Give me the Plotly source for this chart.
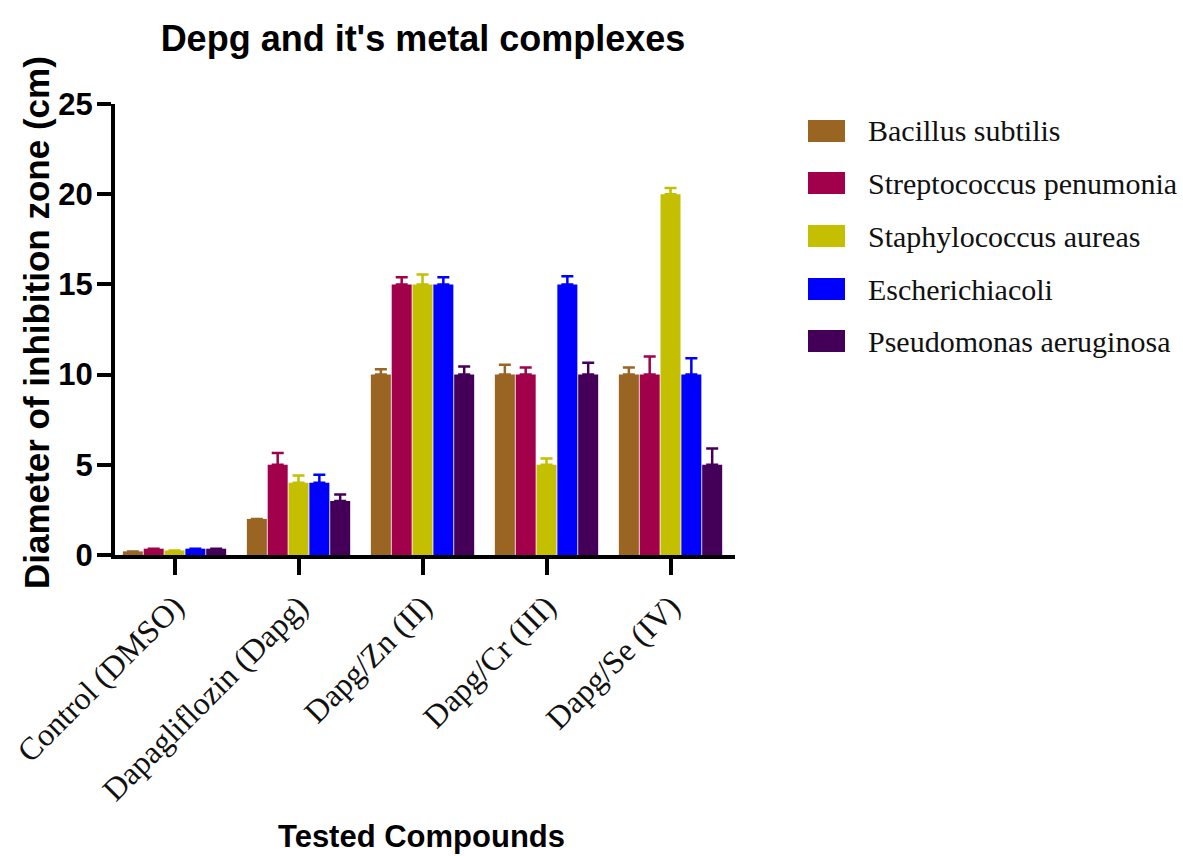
import plotly.graph_objects as go

# Tested compounds (x categories)
compounds = ["Control (DMSO)", "Dapagliflozin (Dapg)", "Dapg/Zn (II)", "Dapg/Cr (III)", "Dapg/Se (IV)"]

# Bacterial strains (series)
strains = ["Bacillus subtilis", "Streptococcus penumonia", "Staphylococcus aureas",
           "Escherichiacoli", "Pseudomonas aeruginosa"]

# Diameter of inhibition zone (cm), one list per strain
bacillus = [0.2, 2, 10, 10, 10]
streptococcus = [0.35, 5, 15, 10, 10]
staphylococcus = [0.25, 4, 15, 5, 20]
escherichia = [0.35, 4, 15, 15, 10]
pseudomonas = [0.35, 3, 10, 10, 5]

# Upper error (cm); None where no error bar is drawn
bacillus_err = [None, None, 0.3, 0.55, 0.4]
streptococcus_err = [None, 0.65, 0.4, 0.4, 1.0]
staphylococcus_err = [None, 0.4, 0.55, 0.35, 0.35]
escherichia_err = [None, 0.45, 0.4, 0.45, 0.9]
pseudomonas_err = [None, 0.35, 0.45, 0.65, 0.9]

y_ticks = [0, 5, 10, 15, 20, 25]

series = [bacillus, streptococcus, staphylococcus, escherichia, pseudomonas]
errors = [bacillus_err, streptococcus_err, staphylococcus_err, escherichia_err, pseudomonas_err]
colors = ["#9A6422", "#A1004B", "#C4BF00", "#0000FF", "#440058"]

fig = go.Figure()
for name, vals, err, col in zip(strains, series, errors, colors):
    fig.add_trace(go.Bar(
        name=name, x=compounds, y=vals,
        marker=dict(color=col, line=dict(width=0)),
        error_y=dict(type="data", array=err, arrayminus=[0] * len(err), symmetric=False,
                     color=col, thickness=2.5, width=6),
        showlegend=False,
    ))

# Pixel geometry of the plotting area
W, H = 1183, 856
L, R, T, B = 115, 448, 104, 301
pw, ph = W - L - R, H - T - B


def px(x):
    return (x - L) / pw


def py(y):
    return (H - B - y) / ph


shapes = []
annotations = []
# Legend: coloured swatches with serif labels
legend_y = [131, 183, 236, 289, 341]
for name, col, yc in zip(strains, colors, legend_y):
    shapes.append(dict(type="rect", xref="paper", yref="paper",
                       x0=px(808), x1=px(845), y0=py(yc + 11), y1=py(yc - 11),
                       fillcolor=col, line=dict(width=0)))
    annotations.append(dict(text=name, xref="paper", yref="paper", x=px(866), y=py(yc),
                            xanchor="left", yanchor="middle", showarrow=False,
                            font=dict(family="Liberation Serif", size=30, color="#111")))

# Axis titles
annotations.append(dict(text="<b>Tested Compounds</b>", xref="paper", yref="paper",
                        x=px(421), y=py(836), xanchor="center", yanchor="middle",
                        showarrow=False, font=dict(family="Liberation Sans", size=31, color="black")))
annotations.append(dict(text="<b>Diameter of inhibition zone (cm)</b>", xref="paper", yref="paper",
                        x=px(36), y=py(323), xanchor="center", yanchor="middle", textangle=-90,
                        showarrow=False, font=dict(family="Liberation Sans", size=35, color="black")))

fig.update_layout(
    width=W, height=H,
    margin=dict(l=L, r=R, t=T, b=B, autoexpand=False),
    paper_bgcolor="white", plot_bgcolor="white",
    barmode="group", bargap=0.16, bargroupgap=0.04,
    title=dict(text="<b>Depg and it's metal complexes</b>", xref="container", x=423 / W,
               xanchor="center", y=1 - 38 / H, yanchor="middle",
               font=dict(family="Liberation Sans", size=36, color="black")),
    shapes=shapes, annotations=annotations,
    xaxis=dict(showline=True, linecolor="black", linewidth=4, ticks="outside",
               ticklen=16, tickwidth=4, tickcolor="black", tickangle=-45,
               tickfont=dict(family="Liberation Serif", size=32, color="#111"),
               showgrid=False, zeroline=False, range=[-0.48, 4.52]),
    yaxis=dict(showline=True, linecolor="black", linewidth=4, ticks="outside",
               ticklen=14, tickwidth=4, tickcolor="black", tickvals=y_ticks,
               tickfont=dict(family="Liberation Sans", size=31, color="black", weight="bold"),
               ticklabelstandoff=-2,
               showgrid=False, zeroline=False, range=[0, 25]),
    font=dict(family="Liberation Sans"),
)

fig.write_html("out.html")
